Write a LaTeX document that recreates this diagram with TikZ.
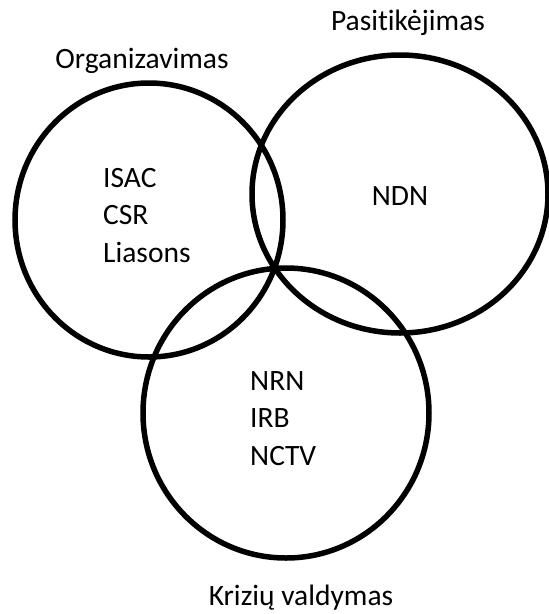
\documentclass[tikz,border=0pt]{standalone}
\usepackage{fontspec}
\setmainfont{Carlito}[Ligatures=NoCommon]
\usetikzlibrary{positioning,shapes.geometric}

\begin{document}
\begin{tikzpicture}[x=1pt,y=-1pt,
    aibe/.style={draw,ellipse,line width=5.5pt,inner sep=0pt},
    txt/.style={font=\fontsize{29.5}{37.5}\selectfont,inner sep=0pt},
    sarasas/.style={txt,align=left,anchor=north west},
]
\useasboundingbox (0,0) rectangle (549,614);
\node[aibe,minimum width=268,minimum height=274] (org) at (149,220) {};
\node[aibe,minimum width=296,minimum height=278] (pas) at (400,194) {};
\node[aibe,minimum width=286,minimum height=290] (kri) at (286,413) {};
\node[txt,anchor=base] (orgt) at (142,68) {Organizavimas};
\node[txt,anchor=base] (past) at (408,30) {Pasitikėjimas};
\node[txt,anchor=base] (krit) at (301,605) {Krizių valdymas};
\node[sarasas] (orgs) at (103,168) {ISAC\\CSR\\Liasons};
\node[txt,anchor=base] (pass) at (400,205) {NDN};
\node[sarasas] (kris) at (250,371) {NRN\\IRB\\NCTV};
\end{tikzpicture}
\end{document}
